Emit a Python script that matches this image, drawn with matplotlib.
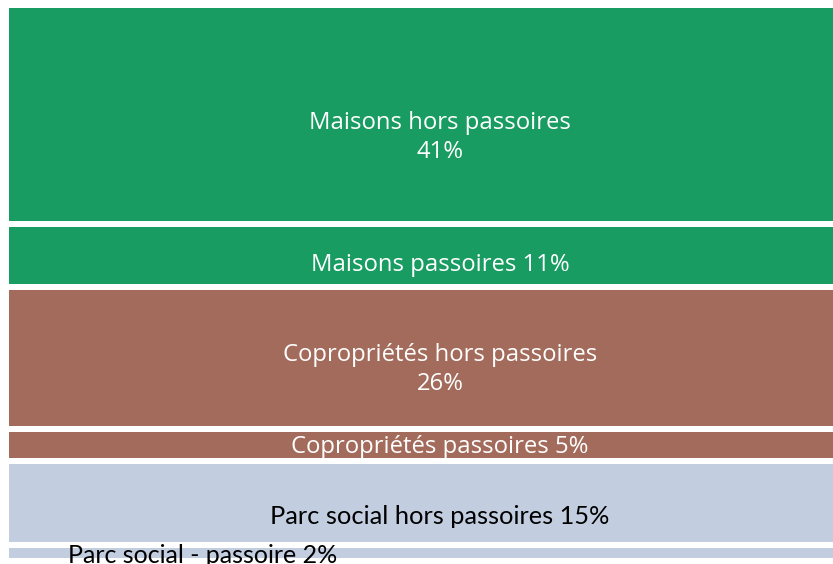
import matplotlib.pyplot as plt

labels = ["Maisons hors passoires\n41%", "Maisons passoires 11%",
          "Copropriétés hors passoires\n26%", "Copropriétés passoires 5%",
          "Parc social hors passoires 15%", "Parc social - passoire 2%"]
values = [41, 11, 26, 5, 15, 2]
colors = ["#189c61", "#189c61", "#a36b5b", "#a36b5b", "#c2cee0", "#c2cee0"]
text_colors = ["white", "white", "white", "white", "black", "black"]

scale = 5.2  # px per %
gap = 6 / scale

fig = plt.figure(figsize=(8.33, 5.64), dpi=100)
ax = fig.add_axes([9 / 833, 0, 1 - 9 / 833, 1])
ax.set_xlim(0, 1)
ax.set_ylim(556 / scale, -8 / scale)
ax.axis("off")

y = 0
for i, v in enumerate(values):
    ax.barh(y, 1, height=v, align="edge", color=colors[i], linewidth=0)
    mid = y + v / 2
    if i == len(values) - 1:
        ax.text(0.072, mid + 0.6, labels[i], ha="left", va="center",
                color=text_colors[i], fontsize=18, family="Lato")
    elif i >= 4:
        ax.text(0.523, mid + 2.6, labels[i], ha="center", va="center",
                color=text_colors[i], fontsize=18.3, family="Lato")
    else:
        dy = [4.4, 1.8, 2.2, 0.4][i]
        ax.text(0.523, mid + dy, labels[i], ha="center", va="center",
                color=text_colors[i], fontsize=17.2, family="Open Sans",
                linespacing=1.25)
    y += v + gap

fig.savefig("out.png", dpi=100)
